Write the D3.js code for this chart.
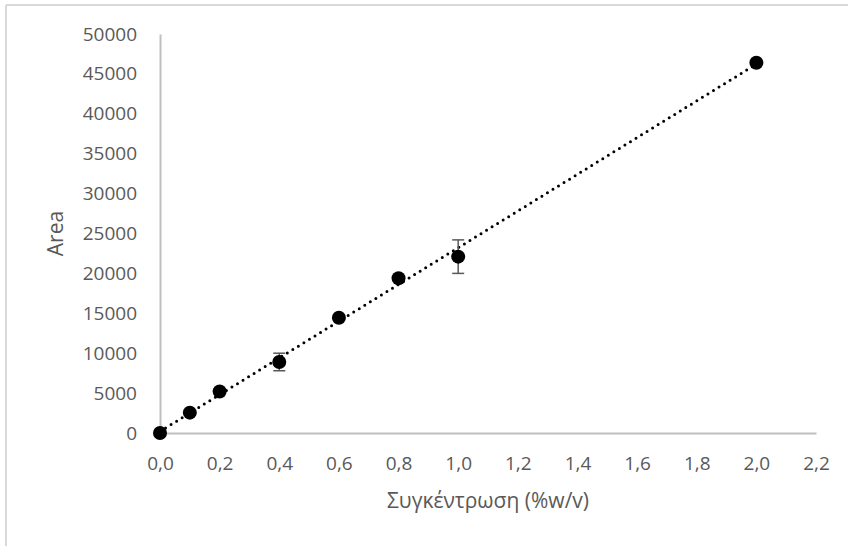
<html><head>
<script src="https://d3js.org/d3.v7.min.js"></script>
<style>
  body { margin: 0; background: #fff; }
  text { font-family: "Open Sans", "Noto Sans", sans-serif; fill: #595959; }
</style>
</head>
<body>
<script>
  // data
  var concentration = [0, 0.1, 0.2, 0.4, 0.6, 0.8, 1.0, 2.0];
  var area = [0, 2550, 5200, 8900, 14450, 19400, 22100, 46400];
  var areaErr = [0, 0, 0, 1100, 0, 0, 2100, 0];
  var xTicks = [0, 0.2, 0.4, 0.6, 0.8, 1.0, 1.2, 1.4, 1.6, 1.8, 2.0, 2.2];
  var yTicks = [0, 5000, 10000, 15000, 20000, 25000, 30000, 35000, 40000, 45000, 50000];
  var xTitle = "Συγκέντρωση (%w/v)";
  var yTitle = "Area";

  let width = 848, height = 546;
  let margin = { top: 34, right: 32, bottom: 113, left: 160 };
  let chartWidth = width - margin.left - margin.right;
  let chartHeight = height - margin.top - margin.bottom;

  let svg = d3.select("body").append("svg").attr("width", width).attr("height", height);

  // chart border (only top and left show in the reference)
  svg.append("line").attr("x1", 6).attr("x2", width).attr("y1", 5).attr("y2", 5)
    .attr("stroke", "#d9d9d9").attr("stroke-width", 2);
  svg.append("line").attr("x1", 6).attr("x2", 6).attr("y1", 5).attr("y2", height)
    .attr("stroke", "#d9d9d9").attr("stroke-width", 2);

  let chart = svg.append("g").attr("transform", "translate(" + margin.left + "," + margin.top + ")");

  let xScale = d3.scaleLinear().domain([0, 2.2]).range([0, chartWidth]);
  let yScale = d3.scaleLinear().domain([0, 50000]).range([chartHeight, 0]);

  let xAxis = d3.axisBottom(xScale).tickValues(xTicks).tickSize(0).tickPadding(24)
    .tickFormat(d => d3.format(".1f")(d).replace(".", ","));
  let yAxis = d3.axisLeft(yScale).tickValues(yTicks).tickSize(0).tickPadding(23)
    .tickFormat(d => d);

  let gx = chart.append("g").attr("transform", "translate(0," + chartHeight + ")").call(xAxis);
  let gy = chart.append("g").call(yAxis);
  [gx, gy].forEach(g => {
    g.attr("font-size", null).attr("font-family", null);
    g.selectAll(".domain").attr("stroke", "#bfbfbf").attr("stroke-width", 2);
    g.selectAll("text").style("font-size", "19px").attr("fill", "#595959");
  });

  // axis titles
  svg.append("text").attr("x", margin.left + chartWidth / 2).attr("y", 508).attr("text-anchor", "middle")
    .style("font-size", "21px").text(xTitle);
  svg.append("text").attr("transform", "translate(63," + (margin.top + chartHeight / 2) + ") rotate(-90)")
    .attr("text-anchor", "middle").style("font-size", "21px").text(yTitle);

  // linear trendline (least squares over the points)
  let n = concentration.length;
  let mx = d3.mean(concentration), my = d3.mean(area);
  let sxy = 0, sxx = 0;
  for (let i = 0; i < n; i++) {
    sxy += (concentration[i] - mx) * (area[i] - my);
    sxx += (concentration[i] - mx) * (concentration[i] - mx);
  }
  let slope = sxy / sxx, intercept = my - slope * mx;
  let x0 = d3.min(concentration), x1 = d3.max(concentration);
  chart.append("line")
    .attr("x1", xScale(x0)).attr("y1", yScale(intercept + slope * x0))
    .attr("x2", xScale(x1)).attr("y2", yScale(intercept + slope * x1))
    .attr("stroke", "#000").attr("stroke-width", 3)
    .attr("stroke-linecap", "round").attr("stroke-dasharray", "0 6.5");

  // error bars
  concentration.forEach((c, i) => {
    if (!areaErr[i]) return;
    let cx = xScale(c);
    let top = yScale(area[i] + areaErr[i]), bot = yScale(area[i] - areaErr[i]);
    let g = chart.append("g").attr("stroke", "#595959").attr("stroke-width", 1.5);
    g.append("line").attr("x1", cx).attr("x2", cx).attr("y1", top).attr("y2", bot);
    g.append("line").attr("x1", cx - 6).attr("x2", cx + 6).attr("y1", top).attr("y2", top);
    g.append("line").attr("x1", cx - 6).attr("x2", cx + 6).attr("y1", bot).attr("y2", bot);
  });

  // points
  concentration.forEach((c, i) => {
    chart.append("circle").attr("cx", xScale(c)).attr("cy", yScale(area[i]))
      .attr("r", 7).attr("fill", "#000");
  });
</script>
</body>
</html>
